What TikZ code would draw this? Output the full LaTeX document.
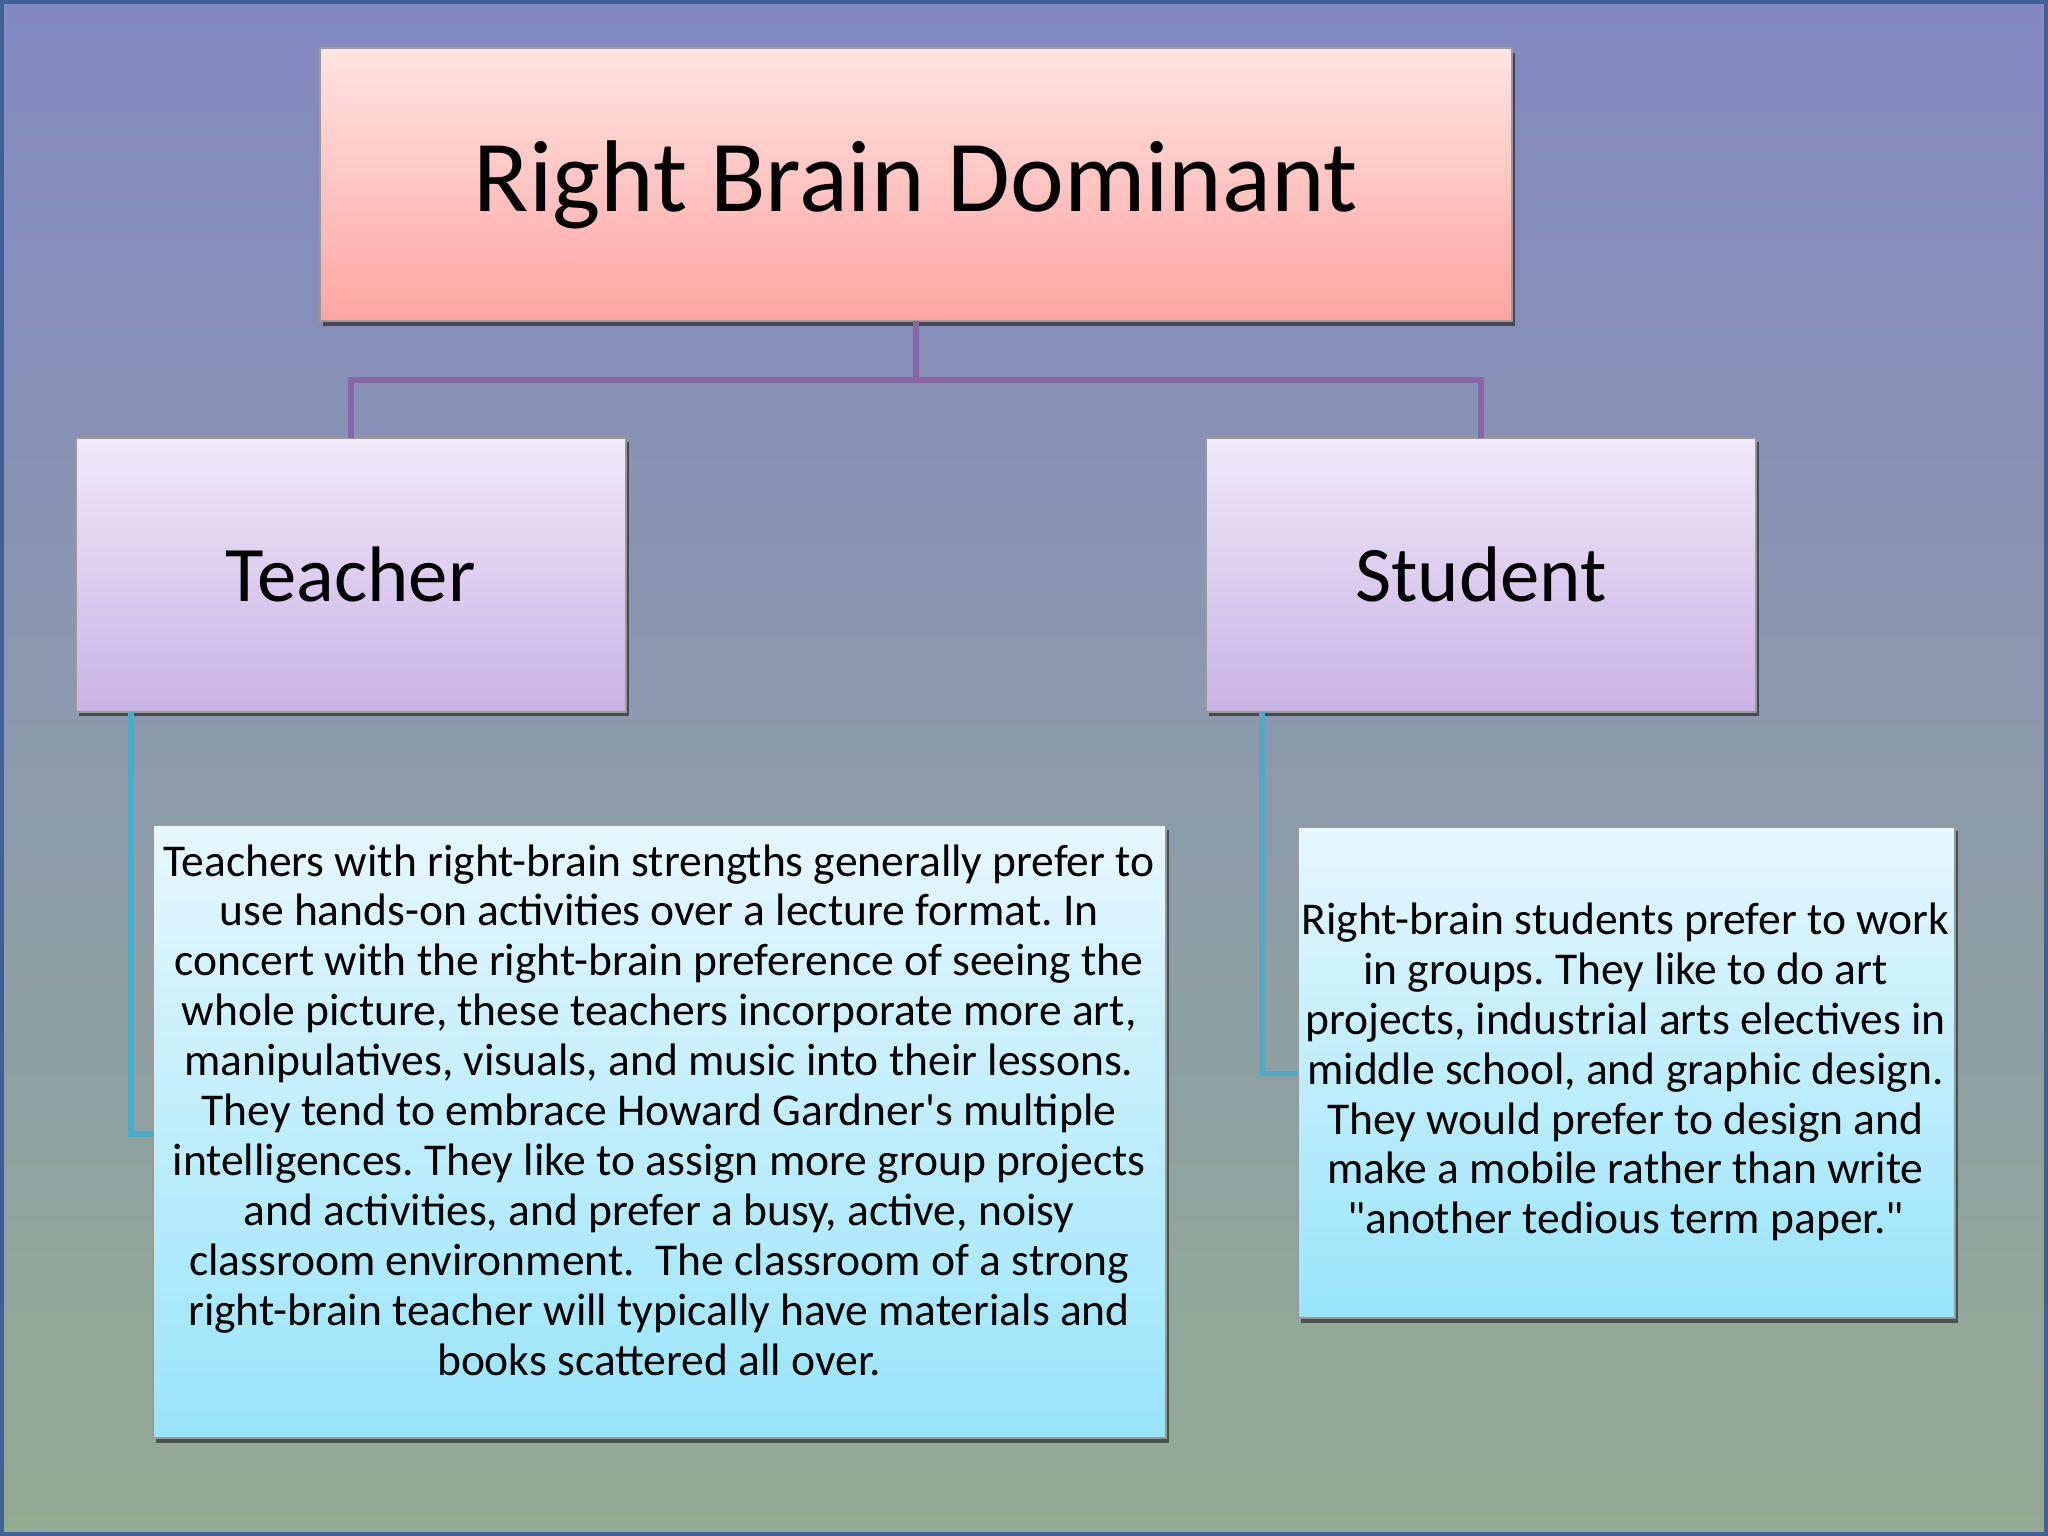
\documentclass[tikz,border=0pt]{standalone}
\usepackage{fontspec}
\setmainfont{Carlito}
\usetikzlibrary{shadows}
\definecolor{bgtop}{HTML}{8388C3}
\definecolor{bgbot}{HTML}{94AB93}
\definecolor{frame}{HTML}{3F6195}
\definecolor{redtop}{HTML}{FFE4E1}
\definecolor{redbot}{HTML}{FFA5A2}
\definecolor{purtop}{HTML}{EFE9F9}
\definecolor{purbot}{HTML}{C9B3E5}
\definecolor{cyatop}{HTML}{E6F7FD}
\definecolor{cyabot}{HTML}{98E4FA}
\definecolor{purline}{HTML}{8A65A8}
\definecolor{cyaline}{HTML}{4BACC6}
\tikzset{
  basebox/.style={draw=gray!80, line width=0.5pt, inner sep=0pt, outer sep=0pt,
    drop shadow={shadow xshift=0.9pt, shadow yshift=-1.3pt, opacity=0.5, fill=black}},
  titlebox/.style={basebox, top color=redtop, bottom color=redbot,
    minimum width=11.92cm, minimum height=2.73cm, font=\fontsize{29}{35}\selectfont},
  rolebox/.style={basebox, top color=purtop, bottom color=purbot,
    minimum width=5.5cm, minimum height=2.74cm, font=\fontsize{22.4}{27}\selectfont},
  textbox/.style={basebox, top color=cyatop, bottom color=cyabot},
  bodytext/.style={inner sep=0pt, align=center, font=\fontsize{12.95}{14.2}\selectfont},
  purplink/.style={draw=purline, line width=1.6pt},
  cyanlink/.style={draw=cyaline, line width=1.6pt},
}
\begin{document}
\frenchspacing
\begin{tikzpicture}
\useasboundingbox (0,0) rectangle (20.48,-15.36);
\shade[top color=bgtop, bottom color=bgbot] (0,0) rectangle (20.48,-15.36);
\draw[frame, line width=1.1pt] (0.02,-0.02) rectangle (20.46,-15.34);

\node[titlebox] (top) at (9.16,-1.845) {Right Brain Dominant};
\node[rolebox] (teacher) at (3.507,-5.747) {Teacher};
\node[rolebox] (student) at (14.811,-5.747) {Student};

\node[textbox, minimum width=10.135cm, minimum height=6.125cm] (tbox) at (6.595,-11.318) {};
\node[textbox, minimum width=6.569cm, minimum height=4.911cm] (sbox) at (16.267,-10.724) {};

\node[bodytext] (ttext) at (6.59,-11.10) {Teachers with right-brain strengths generally prefer to\\
use hands-on activities over a lecture format. In\\
concert with the right-brain preference of seeing the\\
whole picture, these teachers incorporate more art,\\
manipulatives, visuals, and music into their lessons.\\
They tend to embrace Howard Gardner\textquotesingle s multiple\\
intelligences. They like to assign more group projects\\
and activities, and prefer a busy, active, noisy\\
classroom environment.\ \ The classroom of a strong\\
right-brain teacher will typically have materials and\\
books scattered all over.};

\node[bodytext] (stext) at (16.255,-10.72) {Right-brain students prefer to work\\
in groups. They like to do art\\
projects, industrial arts electives in\\
middle school, and graphic design.\\
They would prefer to design and\\
make a mobile rather than write\\
\textquotedbl another tedious term paper.\textquotedbl};

\coordinate (hub) at (9.16,-3.80);
\draw[purplink] (top.south) -- (hub);
\draw[purplink] (teacher.north) |- (hub) -| (student.north);

\draw[cyanlink] ([xshift=0.55cm]teacher.south west) |- (tbox.west |- 0,-11.337);
\draw[cyanlink] ([xshift=0.56cm]student.south west) |- (sbox.west |- 0,-10.736);
\end{tikzpicture}
\end{document}
